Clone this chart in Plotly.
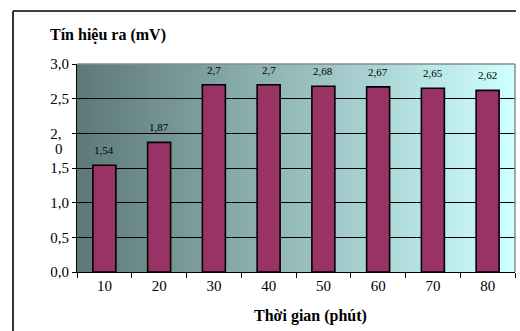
import plotly.graph_objects as go

# Signal output over time
times = ["10", "20", "30", "40", "50", "60", "70", "80"]
signal = [1.54, 1.87, 2.7, 2.7, 2.68, 2.67, 2.65, 2.62]
value_labels = ["1,54", "1,87", "2,7", "2,7", "2,68", "2,67", "2,65", "2,62"]
y_ticks = [0, 0.5, 1.0, 1.5, 2.0, 2.5, 3.0]
y_ticktext = ["0,0", "0,5", "1,0", "1,5", "2,\u00a0\u00a0", "2,5", "3,0"]

W, H = 520, 331
L, R, T, B = 77, 5, 64, 59
PW, PH = W - L - R, H - T - B
SERIF = "'Times New Roman', 'Liberation Serif', serif"


def px(x):
    return (x - L) / PW


def py(y):
    return (H - B - y) / PH


fig = go.Figure()
fig.add_trace(go.Bar(
    x=times, y=signal, width=0.42,
    marker=dict(color="#993366", line=dict(color="black", width=1.6)),
    hoverinfo="skip",
))

shapes = []
# horizontal gradient in the plot area (dark slate -> light cyan)
n = 120
c0 = (94, 120, 120)
c1 = (206, 255, 255)
for i in range(n):
    t = i / (n - 1)
    col = tuple(round(a + (b - a) * t) for a, b in zip(c0, c1))
    shapes.append(dict(
        type="rect", xref="paper", yref="paper",
        x0=i / n, x1=min(1, (i + 1) / n + 0.002), y0=0, y1=1,
        fillcolor="rgb(%d,%d,%d)" % col, line=dict(width=0), layer="below",
    ))
# plot frame (top and right, gray)
shapes.append(dict(type="line", xref="paper", yref="paper", x0=0, x1=1, y0=1, y1=1,
                   line=dict(color="#8a8a8a", width=1.5)))
shapes.append(dict(type="line", xref="paper", yref="paper", x0=1, x1=1, y0=0, y1=1,
                   line=dict(color="#8a8a8a", width=1.5)))
# outer chart border (top and left)
shapes.append(dict(type="line", xref="paper", yref="paper",
                   x0=px(13), x1=px(516), y0=py(11), y1=py(11),
                   line=dict(color="black", width=1.6)))
shapes.append(dict(type="line", xref="paper", yref="paper",
                   x0=px(13), x1=px(13), y0=py(11), y1=py(340),
                   line=dict(color="black", width=1.6)))

annotations = []
for i, (y, lab) in enumerate(zip(signal, value_labels)):
    annotations.append(dict(x=i, y=y, text=lab, showarrow=False, xref="x", yref="y",
                            yanchor="middle", yshift=15,
                            font=dict(family=SERIF, size=11, color="black")))
# second line of the wrapped "2,0" tick label
annotations.append(dict(x=px(53), xref="paper", y=2.0, yref="y", text="0", showarrow=False,
                        xanchor="left", yanchor="middle", yshift=-16,
                        font=dict(family=SERIF, size=15, color="black")))
annotations.append(dict(x=px(48), xref="paper", xanchor="left",
                        y=py(35), yref="paper", yanchor="middle",
                        text="<b>Tín hiệu ra (mV)</b>", showarrow=False,
                        font=dict(family=SERIF, size=16, color="black")))
annotations.append(dict(x=px(310), xref="paper", xanchor="center",
                        y=py(316), yref="paper", yanchor="middle",
                        text="<b>Thời gian (phút)</b>", showarrow=False,
                        font=dict(family=SERIF, size=16, color="black")))

fig.update_layout(
    width=W, height=H,
    margin=dict(l=L, r=R, t=T, b=B, pad=0),
    paper_bgcolor="white", plot_bgcolor="rgba(0,0,0,0)",
    showlegend=False,
    shapes=shapes, annotations=annotations,
    xaxis=dict(type="category", range=[-0.5, 7.5], tickson="boundaries",
               ticks="outside", ticklen=5, tickangle=0,
               tickcolor="black", tickwidth=1, showgrid=False, showline=True,
               linecolor="black", linewidth=1, zeroline=False,
               tickfont=dict(family=SERIF, size=15, color="black"),
               fixedrange=True),
    yaxis=dict(range=[0, 3.0], tickvals=y_ticks, ticktext=y_ticktext,
               ticks="outside", ticklen=4, tickcolor="black", tickwidth=1,
               showgrid=True, gridcolor="black", gridwidth=1,
               showline=True, linecolor="black", linewidth=1, zeroline=False,
               tickfont=dict(family=SERIF, size=15, color="black"),
               fixedrange=True),
)

fig.write_html("out.html")
